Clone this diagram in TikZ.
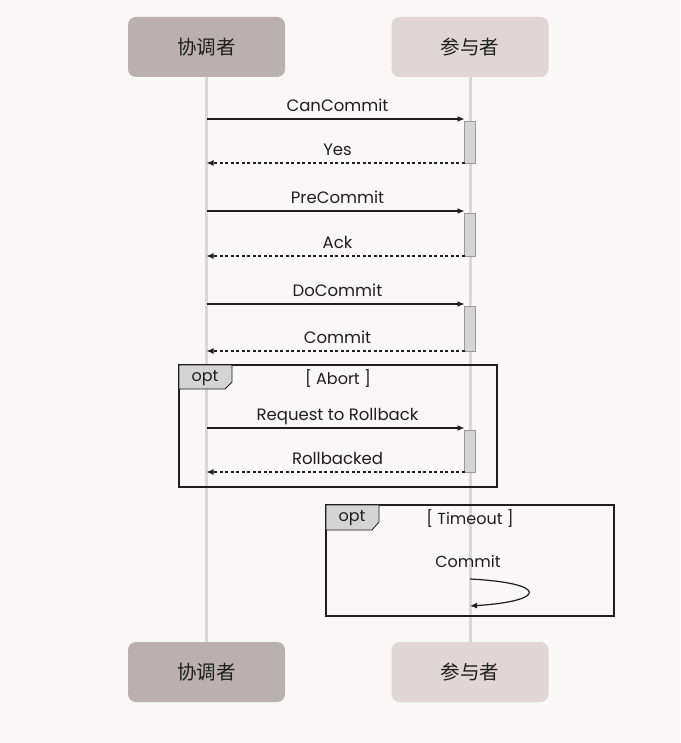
\documentclass[tikz,border=0pt]{standalone}
\usepackage{fontspec}
\setmainfont{Poppins}
\newfontfamily\cjk{Noto Sans CJK SC}
\usetikzlibrary{arrows.meta}

\definecolor{bgcol}{RGB}{249,247,248}
\definecolor{coordcol}{RGB}{186,176,177}
\definecolor{partcol}{RGB}{224,214,214}
\definecolor{lifecol}{RGB}{216,216,216}
\definecolor{barcol}{RGB}{212,212,212}
\definecolor{inkcol}{RGB}{30,30,30}

\tikzset{
  head/.style={rounded corners=8pt,minimum width=157pt,minimum height=60pt,
               font=\cjk\fontsize{19.5}{19.5}\selectfont,text=inkcol},
  life/.style={lifecol,line width=3pt},
  call/.style={-{Latex[length=7pt,width=6pt]},line width=1.2pt,inkcol},
  reply/.style={call,dash pattern=on 3pt off 2.5pt},
  lbl/.style={midway,anchor=base,yshift=7.5pt,xshift=2pt,inner sep=0pt,
              font=\fontsize{16.5}{16.5}\selectfont,text=inkcol},
  actbar/.style={fill=barcol,draw=gray!80,line width=0.6pt},
  frame/.style={draw=inkcol,line width=1.3pt},
  tab/.style={fill=barcol,draw=inkcol,line width=0.8pt},
  guard/.style={font=\fontsize{16}{16}\selectfont,text=inkcol,inner sep=0pt,yshift=-1.5pt}
}

\begin{document}
\begin{tikzpicture}[x=1pt,y=-1pt]
   \fill[bgcol] (0,0) rectangle (680,743);
   \useasboundingbox (0,0) rectangle (680,743);

   \node[head,fill=coordcol] (co)  at (206.5,47)  {协调者};
   \node[head,fill=partcol]  (pa)  at (470,47)    {参与者};
   \node[head,fill=coordcol] (co2) at (206.5,672) {协调者};
   \node[head,fill=partcol]  (pa2) at (470,672)   {参与者};

   \draw[life] (co) -- (co2);
   \draw[life] (pa) -- (pa2);

   % activation bars
   \foreach \top/\bot in {121/163, 213/256, 306/351, 430/472}
      \draw[actbar] (464.5,\top) rectangle (475,\bot);

   % messages
   \draw[call]  (co |- 0,119) -- (464.5,119) node[lbl] {CanCommit};
   \draw[reply] (464.5,163) -- (co |- 0,163) node[lbl] {Yes};
   \draw[call]  (co |- 0,211) -- (464.5,211) node[lbl] {PreCommit};
   \draw[reply] (464.5,256) -- (co |- 0,256) node[lbl] {Ack};
   \draw[call]  (co |- 0,304) -- (464.5,304) node[lbl] {DoCommit};
   \draw[reply] (464.5,351) -- (co |- 0,351) node[lbl] {Commit};

   % opt: abort
   \draw[frame] (179,365) rectangle (497,487);
   \draw[tab] (179,365) -- (232,365) -- (232,382) -- (225,389) -- (179,389) -- cycle;
   \node[guard] (opt1) at (205,377) {opt};
   \node[guard] (abort) at (338,377) {[ Abort ]};
   \draw[call]  (co |- 0,428) -- (464.5,428) node[lbl] {Request to Rollback};
   \draw[reply] (464.5,472) -- (co |- 0,472) node[lbl] {Rollbacked};

   % opt: timeout
   \draw[frame] (326,505) rectangle (614,616);
   \draw[tab] (326,505) -- (379,505) -- (379,522) -- (372,530) -- (326,530) -- cycle;
   \node[guard] (opt2) at (352,517) {opt};
   \node[guard] (tout) at (470,517) {[ Timeout ]};
   \node[guard] (self) at (468,560) {Commit};
   \draw[call] (pa |- 0,579) .. controls (548,583) and (548,601) .. (pa |- 0,606);
\end{tikzpicture}
\end{document}
